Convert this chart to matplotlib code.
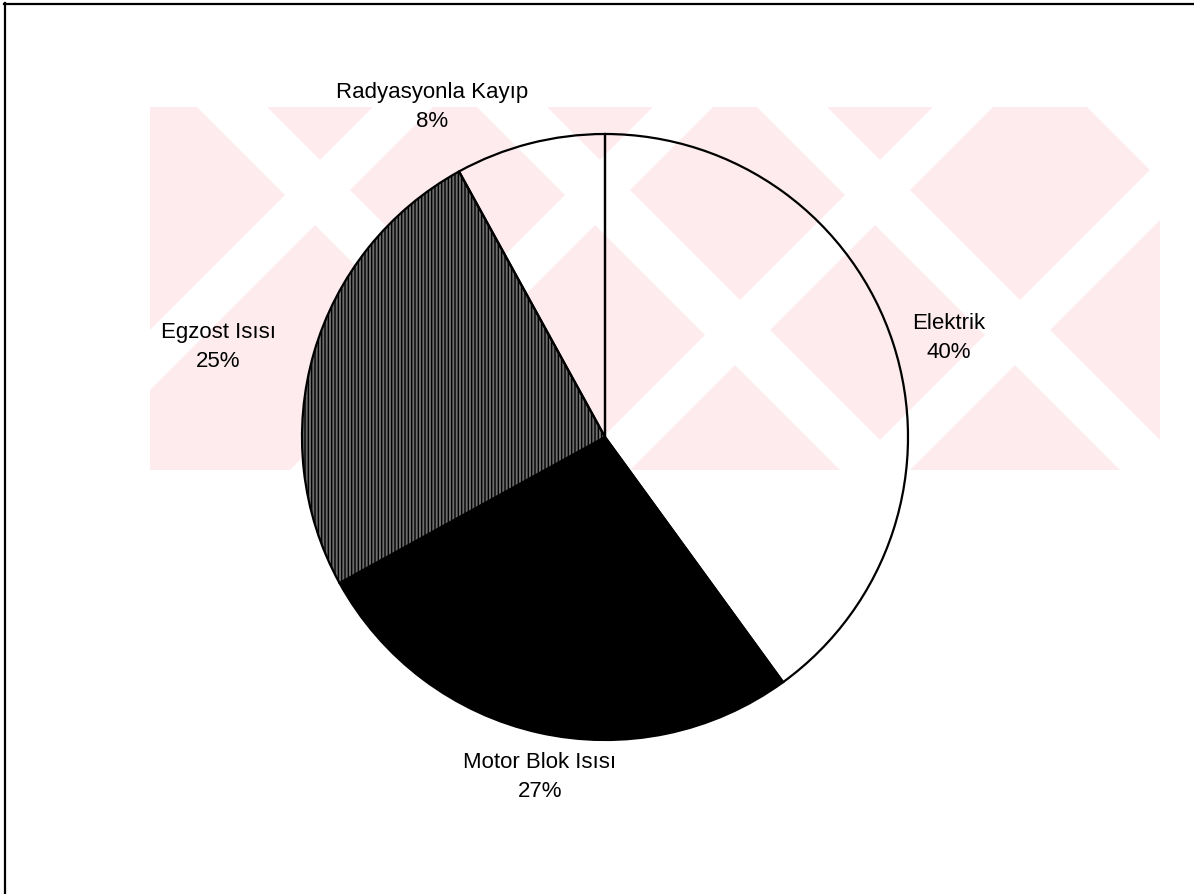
import matplotlib.pyplot as plt
from matplotlib.patches import Polygon, Rectangle

# -----------------------------
# Data
# -----------------------------
labels = ["Elektrik", "Motor Blok Isısı", "Egzost Isısı", "Radyasyonla Kayıp"]
shares = [40, 27, 25, 8]
colors = ["white", "black", "#6c6c6c", "white"]
hatches = [None, None, "|||||", None]
label_pos = [(1.135, 0.327), (-0.215, -1.122), (-1.277, 0.297), (-0.57, 1.089)]

plt.rcParams["font.family"] = ["Liberation Sans", "DejaVu Sans"]
plt.rcParams["hatch.linewidth"] = 1.0

W, H = 1194, 894
fig = plt.figure(figsize=(W / 100, H / 100), dpi=100)

# -----------------------------
# Background: faint watermark + frame (pixel coords)
# -----------------------------
bg = fig.add_axes([0, 0, 1, 1])
bg.set_xlim(0, W)
bg.set_ylim(H, 0)
bg.axis("off")

top, bot, left, right = 107, 470, 150, 1160
rect = Rectangle((left, top), right - left, bot - top,
                 facecolor="#fdebee", edgecolor="none", zorder=0)
bg.add_patch(rect)


def stripe(c0, c1, sign):
    # band between x + sign*y = c0 and c1, spanning top..bot
    pts = [(c0 - sign * top, top), (c1 - sign * top, top),
           (c1 - sign * bot, bot), (c0 - sign * bot, bot)]
    p = Polygon(pts, closed=True, facecolor="white", edgecolor="none", zorder=1)
    bg.add_patch(p)
    p.set_clip_path(rect)


for c0 in [90, 370, 650]:
    stripe(c0, c0 + 70, -1)          # down-right white bands
stripe(980, 1400, -1)                # right corner outside the mark
for c0 in [480, 760, 1040, 1320]:
    stripe(c0, c0 + 60, 1)           # down-left white bands
stripe(0, 257, 1)                    # top-left corner outside the mark

bg.plot([4, W], [3.5, 3.5], color="black", linewidth=1.6)
bg.plot([4.5, 4.5], [3, H], color="black", linewidth=1.6)

# -----------------------------
# Pie
# -----------------------------
cx, cy, r = 605, 437, 303
ax = fig.add_axes([(cx - r) / W, (H - cy - r) / H, 2 * r / W, 2 * r / H])
ax.patch.set_alpha(0)

wedges, _ = ax.pie(
    shares,
    colors=colors,
    startangle=90,
    counterclock=False,
    wedgeprops=dict(edgecolor="black", linewidth=1.6),
)
for w, hc, c in zip(wedges, hatches, colors):
    if hc:
        w.set_hatch(hc)
    if c == "white":
        w.set_facecolor("none")

for lab, s, (x, y) in zip(labels, shares, label_pos):
    ax.text(x, y, f"{lab}\n{s}%", ha="center", va="center",
            fontsize=16, linespacing=1.45, color="black")

ax.set_xlim(-1, 1)
ax.set_ylim(-1, 1)
ax.set_aspect("equal")
ax.axis("off")

fig.savefig("out.png", dpi=100)
